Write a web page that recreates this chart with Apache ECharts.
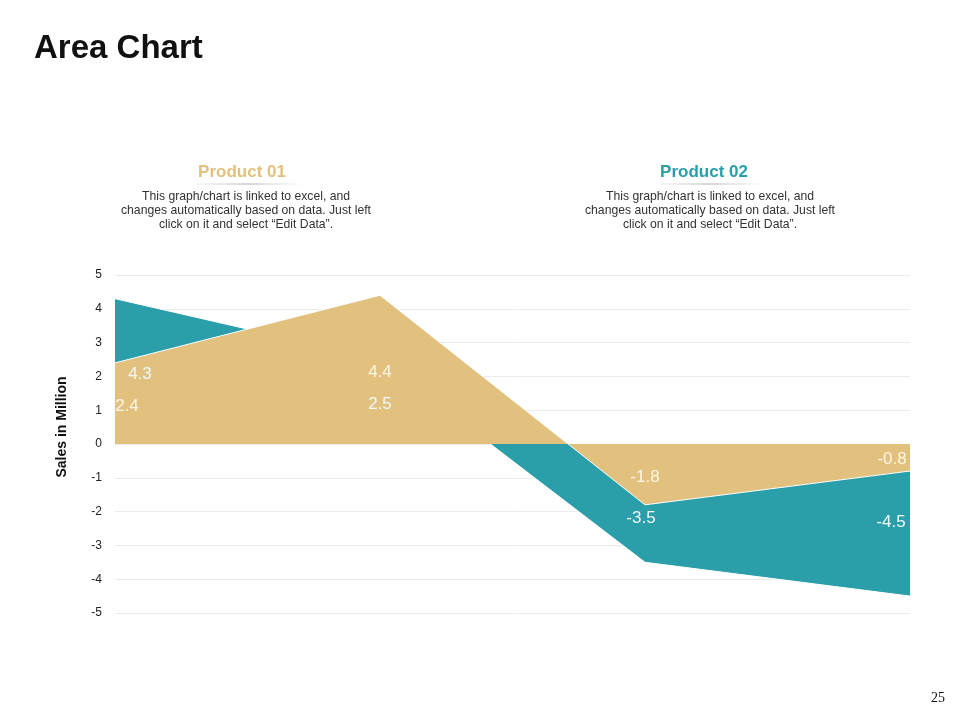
<!DOCTYPE html>
<html>
<head>
<meta charset="utf-8">
<script src="https://cdn.jsdelivr.net/npm/echarts@6/dist/echarts.min.js"></script>
<style>
html,body{margin:0;padding:0;background:#fff;}
#c{width:960px;height:720px;}
</style>
</head>
<body>
<div id="c"></div>
<script>
const categories = ['Q1', 'Q2', 'Q3', 'Q4'];
const product02 = [4.3, 2.5, -3.5, -4.5];
const product01 = [2.4, 4.4, -1.8, -0.8];
const yTicks = [-5, -4, -3, -2, -1, 0, 1, 2, 3, 4, 5];

const TEAL = '#2a9ea9';
const TAN = '#e2c07e';
const FONT = 'Liberation Sans, Arial, sans-serif';

// label placement styles (pixel offsets from each point)
const tealLabelOffsets = [[25, 76], [0, 45], [-4, -44], [-19, -74]];
const tanLabelOffsets = [[12, 43], [0, 77], [0, -28], [-18, -12]];

function withLabels(values, offsets) {
  return values.map((v, i) => ({ value: v, label: { offset: offsets[i] } }));
}

const desc = 'This graph/chart is linked to excel, and\nchanges automatically based on data. Just left\nclick on it and select \u201cEdit Data\u201d.';

const underline = () => new echarts.graphic.LinearGradient(0, 0, 1, 0, [
  { offset: 0, color: 'rgba(190,190,190,0.2)' },
  { offset: 0.5, color: 'rgba(150,150,150,0.8)' },
  { offset: 1, color: 'rgba(190,190,190,0.1)' }]);

const chart = echarts.init(document.getElementById('c'));
chart.setOption({
  animation: false,
  backgroundColor: '#fff',
  textStyle: { fontFamily: FONT },
  title: {
    text: 'Area Chart',
    left: 29, top: 27,
    textStyle: { fontFamily: FONT, fontSize: 33, fontWeight: 'bold', color: '#111' }
  },
  grid: { left: 115, right: 50, top: 275, bottom: 107, containLabel: false },
  xAxis: {
    type: 'category',
    data: categories,
    boundaryGap: false,
    axisLine: { show: false },
    axisTick: { show: false },
    axisLabel: { show: false },
    splitLine: { show: false }
  },
  yAxis: {
    type: 'value',
    min: yTicks[0], max: yTicks[yTicks.length - 1], interval: 1,
    axisLine: { show: false },
    axisTick: { show: false },
    axisLabel: { fontFamily: FONT, fontSize: 12, color: '#222', margin: 13 },
    splitLine: { lineStyle: { color: '#ebebeb', width: 1 } }
  },
  series: [
    {
      name: 'Product 02',
      type: 'line',
      data: product02,
      symbol: 'none',
      lineStyle: { color: '#ffffff', width: 1 },
      areaStyle: { color: TEAL, opacity: 1, origin: 0 },
      z: 2
    },
    {
      name: 'Product 01',
      type: 'line',
      data: product01,
      symbol: 'none',
      lineStyle: { color: '#ffffff', width: 1 },
      areaStyle: { color: TAN, opacity: 1, origin: 0 },
      z: 3
    },
    {
      name: 'Product 02 labels',
      type: 'line',
      data: withLabels(product02, tealLabelOffsets),
      symbol: 'circle', symbolSize: 1,
      itemStyle: { color: 'rgba(0,0,0,0)' },
      lineStyle: { opacity: 0 },
      label: { show: true, position: 'inside', fontFamily: FONT, fontSize: 17, color: '#eef9fa' },
      z: 5
    },
    {
      name: 'Product 01 labels',
      type: 'line',
      data: withLabels(product01, tanLabelOffsets),
      symbol: 'circle', symbolSize: 1,
      itemStyle: { color: 'rgba(0,0,0,0)' },
      lineStyle: { opacity: 0 },
      label: { show: true, position: 'inside', fontFamily: FONT, fontSize: 17, color: '#fdf6e6' },
      z: 5
    }
  ],
  graphic: [
    {
      type: 'text', x: 62, y: 427, rotation: Math.PI / 2,
      style: { text: 'Sales in Million', fontFamily: FONT, fontSize: 14, fontWeight: 'bold', fill: '#111', align: 'center', verticalAlign: 'middle' }
    },
    {
      type: 'text', x: 242, y: 172,
      style: { text: 'Product 01', fontFamily: FONT, fontSize: 17, fontWeight: 'bold', fill: TAN, align: 'center', verticalAlign: 'middle' }
    },
    {
      type: 'line', shape: { x1: 197, y1: 184, x2: 300, y2: 184 },
      style: { stroke: underline(), lineWidth: 1 }
    },
    {
      type: 'text', x: 246, y: 211,
      style: { text: desc, fontFamily: FONT, fontSize: 12.2, fill: '#333', align: 'center', verticalAlign: 'middle', lineHeight: 14 }
    },
    {
      type: 'text', x: 704, y: 172,
      style: { text: 'Product 02', fontFamily: FONT, fontSize: 17, fontWeight: 'bold', fill: TEAL, align: 'center', verticalAlign: 'middle' }
    },
    {
      type: 'line', shape: { x1: 660, y1: 184, x2: 762, y2: 184 },
      style: { stroke: underline(), lineWidth: 1 }
    },
    {
      type: 'text', x: 710, y: 211,
      style: { text: desc, fontFamily: FONT, fontSize: 12.2, fill: '#333', align: 'center', verticalAlign: 'middle', lineHeight: 14 }
    },
    {
      type: 'text', x: 938, y: 698,
      style: { text: '25', fontFamily: 'Liberation Serif, Times New Roman, serif', fontSize: 14, fill: '#111', align: 'center', verticalAlign: 'middle' }
    }
  ]
});
</script>
</body>
</html>
